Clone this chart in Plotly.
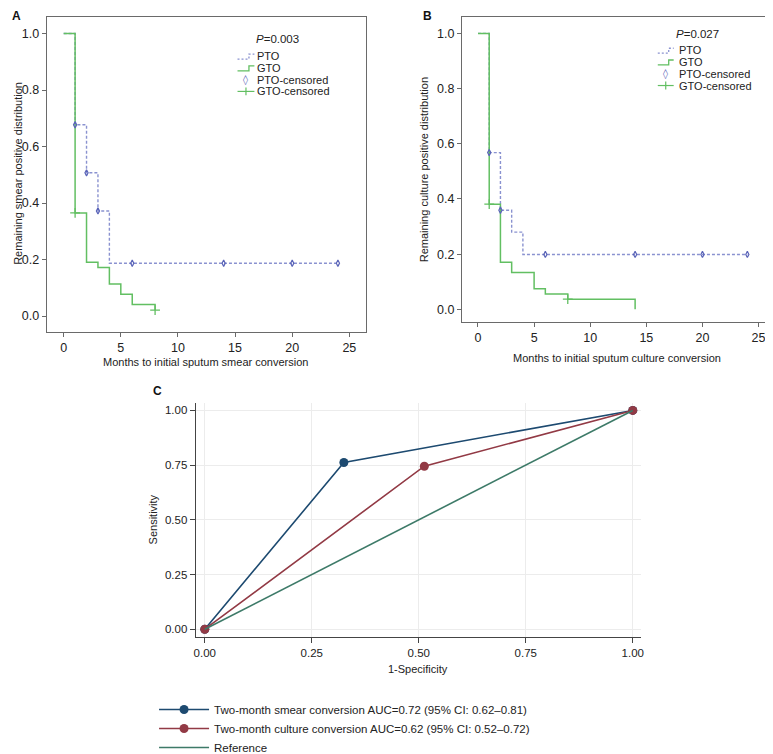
import plotly.graph_objects as go

W, H = 773, 754

# ---------------- data ----------------
months_ticks = [0, 5, 10, 15, 20, 25]
prob_ticks = [0.0, 0.2, 0.4, 0.6, 0.8, 1.0]

# Panel A: smear conversion (Kaplan-Meier step curves)
a_pto_x = [0, 1, 2, 3, 4, 24]
a_pto_y = [1.0, 0.677, 0.507, 0.372, 0.187, 0.187]
a_pto_cens_x = [1, 2, 3, 6, 14, 20, 24]
a_pto_cens_y = [0.677, 0.507, 0.372, 0.187, 0.187, 0.187, 0.187]
a_gto_x = [0, 1, 2, 3, 4, 5, 6, 8]
a_gto_y = [1.0, 0.365, 0.19, 0.172, 0.113, 0.077, 0.041, 0.021]
a_gto_cens_x = [1, 8]
a_gto_cens_y = [0.365, 0.021]
a_p_text = "<i>P</i>=0.003"

# Panel B: culture conversion
b_pto_x = [0, 1, 2, 3, 4, 24]
b_pto_y = [1.0, 0.568, 0.359, 0.28, 0.199, 0.199]
b_pto_cens_x = [1, 2, 6, 14, 20, 24]
b_pto_cens_y = [0.568, 0.359, 0.199, 0.199, 0.199, 0.199]
b_gto_x = [0, 1, 2, 3, 5, 6, 8, 14]
b_gto_y = [1.0, 0.381, 0.171, 0.134, 0.075, 0.056, 0.037, 0.0]
b_gto_cens_x = [1, 8]
b_gto_cens_y = [0.381, 0.037]
b_p_text = "<i>P</i>=0.027"

# Panel C: ROC
roc_ticks = [0.0, 0.25, 0.5, 0.75, 1.0]
smear_fpr = [0.0, 0.325, 1.0]
smear_tpr = [0.0, 0.762, 1.0]
culture_fpr = [0.0, 0.513, 1.0]
culture_tpr = [0.0, 0.745, 1.0]
ref_fpr = [0.0, 1.0]
ref_tpr = [0.0, 1.0]
smear_label = "Two-month smear conversion AUC=0.72 (95% CI: 0.62\u20130.81)"
culture_label = "Two-month culture conversion AUC=0.62 (95% CI: 0.52\u20130.72)"
ref_label = "Reference"

km_labels = ["PTO", "GTO", "PTO-censored", "GTO-censored"]

# ---------------- styles ----------------
FONT = "Liberation Sans, Arial, sans-serif"
PTO_LINE = "#8a92d0"
PTO_MARK = "#5a64b8"
GTO_COL = "#62bf62"
NAVY = "#1d4a70"
MAROON = "#923a45"
TEAL = "#3d7a68"
FRAME = "#6a6a6a"


def fx(p):
    return p / W


def fy(p):
    return 1 - p / H


fig = go.Figure()


def km_traces(px_, py_, pcx, pcy, gx, gy, gcx, gcy, xa, ya):
    fig.add_trace(go.Scatter(x=px_, y=py_, mode="lines", line_shape="hv",
                             line=dict(color=PTO_LINE, width=1.4, dash="3px,2px"),
                             xaxis=xa, yaxis=ya, showlegend=False))
    fig.add_trace(go.Scatter(x=gx, y=gy, mode="lines", line_shape="hv",
                             line=dict(color=GTO_COL, width=1.5),
                             xaxis=xa, yaxis=ya, showlegend=False))
    fig.add_trace(go.Scatter(x=pcx, y=pcy, mode="markers",
                             marker=dict(symbol="diamond-tall-open", size=4.5, color=PTO_MARK,
                                         line=dict(width=1.2, color=PTO_MARK)),
                             xaxis=xa, yaxis=ya, showlegend=False))
    fig.add_trace(go.Scatter(x=gcx, y=gcy, mode="markers",
                             marker=dict(symbol="cross-thin-open", size=7, color=GTO_COL,
                                         line=dict(width=1.3, color=GTO_COL)),
                             xaxis=xa, yaxis=ya, showlegend=False))


km_traces(a_pto_x, a_pto_y, a_pto_cens_x, a_pto_cens_y,
          a_gto_x, a_gto_y, a_gto_cens_x, a_gto_cens_y, "x", "y")
km_traces(b_pto_x, b_pto_y, b_pto_cens_x, b_pto_cens_y,
          b_gto_x, b_gto_y, b_gto_cens_x, b_gto_cens_y, "x2", "y2")

# ---- Panel C traces
fig.add_trace(go.Scatter(x=smear_fpr, y=smear_tpr, mode="lines+markers", name=smear_label,
                         line=dict(color=NAVY, width=1.6),
                         marker=dict(size=9, color=NAVY),
                         xaxis="x3", yaxis="y3", legend="legend"))
fig.add_trace(go.Scatter(x=culture_fpr, y=culture_tpr, mode="lines+markers", name=culture_label,
                         line=dict(color=MAROON, width=1.6),
                         marker=dict(size=9, color=MAROON),
                         xaxis="x3", yaxis="y3", legend="legend"))
fig.add_trace(go.Scatter(x=ref_fpr, y=ref_tpr, mode="lines", name=ref_label,
                         line=dict(color=TEAL, width=1.6),
                         xaxis="x3", yaxis="y3", legend="legend"))

tick_font = dict(family=FONT, size=12.5, color="#222")


def km_axes(dom_x, dom_y, xr, yr):
    xa = dict(domain=dom_x, range=xr, tickvals=months_ticks, ticks="outside", ticklen=4,
              tickcolor=FRAME, showline=True, linecolor=FRAME, linewidth=1.2, mirror=True,
              showgrid=False, zeroline=False, tickfont=tick_font)
    ya = dict(domain=dom_y, range=yr, tickvals=prob_ticks, tickformat=".1f", ticks="outside",
              ticklen=4, tickcolor=FRAME, showline=True, linecolor=FRAME, linewidth=1.2,
              mirror=True, showgrid=False, zeroline=False, tickfont=tick_font)
    return xa, ya


xa1, ya1 = km_axes([fx(37), fx(358)], [fy(330), fy(9)], [-1.48, 26.43], [-0.056, 1.059])
xa2, ya2 = km_axes([fx(455), fx(767)], [fy(320), fy(9)], [-1.42, 26.2], [-0.046, 1.06])
ya1["anchor"] = "x"
xa1["anchor"] = "y"
xa2["anchor"] = "y2"
ya2["anchor"] = "x2"

c_tick_font = dict(family=FONT, size=11.5, color="#222")
xa3 = dict(domain=[fx(187), fx(635)], range=[-0.021, 1.019], tickvals=roc_ticks,
           tickformat=".2f", ticks="outside", ticklen=5, tickcolor="#444",
           showline=True, linecolor="#444", linewidth=1.3, showgrid=True,
           gridcolor="#ececec", gridwidth=1, zeroline=False, anchor="y3",
           tickfont=c_tick_font)
ya3 = dict(domain=[fy(641), fy(402)], range=[-0.036, 1.036], tickvals=roc_ticks,
           tickformat=".2f", ticks="outside", ticklen=5, tickcolor="#444",
           showline=True, linecolor="#444", linewidth=1.3, showgrid=True,
           gridcolor="#ececec", gridwidth=1, zeroline=False, anchor="x3",
           tickfont=c_tick_font)

ann = []
shapes = []
lab_font = dict(family=FONT, size=11, color="#222")
leg_font = dict(family=FONT, size=11.5, color="#222")
km_leg_font = dict(family=FONT, size=11, color="#222")


def add_text(text, x, y, xanchor="center", angle=0, font=lab_font):
    ann.append(dict(text=text, x=fx(x), y=fy(y), xref="paper", yref="paper",
                    xanchor=xanchor, yanchor="middle", showarrow=False,
                    textangle=angle, font=font))


# panel letters
letter_font = dict(family=FONT, size=12, color="#111")
add_text("<b>A</b>", 0, 8, xanchor="left", font=letter_font)
add_text("<b>B</b>", 420, 8, font=letter_font)
add_text("<b>C</b>", 148, 390, font=letter_font)

# axis titles
add_text("Months to initial sputum smear conversion", 197, 361)
add_text("Months to initial sputum culture conversion", 611, 357)
add_text("Remaining smear positive distribution", 8, 168, angle=-90)
add_text("Remaining culture positive distribution", 417, 165, angle=-90)
add_text("1-Specificity", 411, 674)
add_text("Sensitivity", 144, 521, angle=-90)


def km_legend(p_text, p_x, p_y, sx0, sx1, tx, rows):
    add_text(p_text, p_x, p_y, xanchor="left", font=leg_font)
    for lab, ry in zip(km_labels, rows):
        add_text(lab, tx, ry, xanchor="left", font=km_leg_font)
    xm = (sx0 + sx1) / 2
    for r, col, dash in [(rows[0], PTO_LINE, "2px,2px"), (rows[1], GTO_COL, "solid")]:
        shapes.append(dict(type="path", xref="paper", yref="paper",
                           path="M %f,%f L %f,%f L %f,%f L %f,%f" % (
                               fx(sx0), fy(r + 3), fx(xm + 3), fy(r + 3), fx(xm + 3), fy(r - 2),
                               fx(sx1), fy(r - 2)),
                           line=dict(color=col, width=1.3, dash=dash)))
    # PTO censored diamond
    add_text("\u25CA", xm, rows[2], font=dict(family="DejaVu Sans", size=10, color=PTO_MARK))
    # GTO censored cross
    r = rows[3]
    shapes.append(dict(type="line", xref="paper", yref="paper", x0=fx(sx0), x1=fx(sx1),
                       y0=fy(r), y1=fy(r), line=dict(color=GTO_COL, width=1.2)))
    shapes.append(dict(type="line", xref="paper", yref="paper", x0=fx(xm), x1=fx(xm),
                       y0=fy(r - 4), y1=fy(r + 4), line=dict(color=GTO_COL, width=1.2)))


km_legend(a_p_text, 246, 32, 229, 246, 247, [49, 61, 73, 85])
km_legend(b_p_text, 668, 26, 652, 668, 671, [43, 55, 67, 79])

fig.update_layout(
    width=W, height=H, autosize=False,
    margin=dict(l=0, r=0, t=0, b=0),
    paper_bgcolor="white", plot_bgcolor="white",
    font=dict(family=FONT, size=11.5, color="#222"),
    xaxis=xa1, yaxis=ya1, xaxis2=xa2, yaxis2=ya2, xaxis3=xa3, yaxis3=ya3,
    annotations=ann, shapes=shapes,
    legend=dict(x=fx(145), y=fy(700), xanchor="left", yanchor="top",
                bgcolor="rgba(0,0,0,0)", font=leg_font, itemwidth=50,
                tracegroupgap=0),
)

fig.write_html("out.html")
